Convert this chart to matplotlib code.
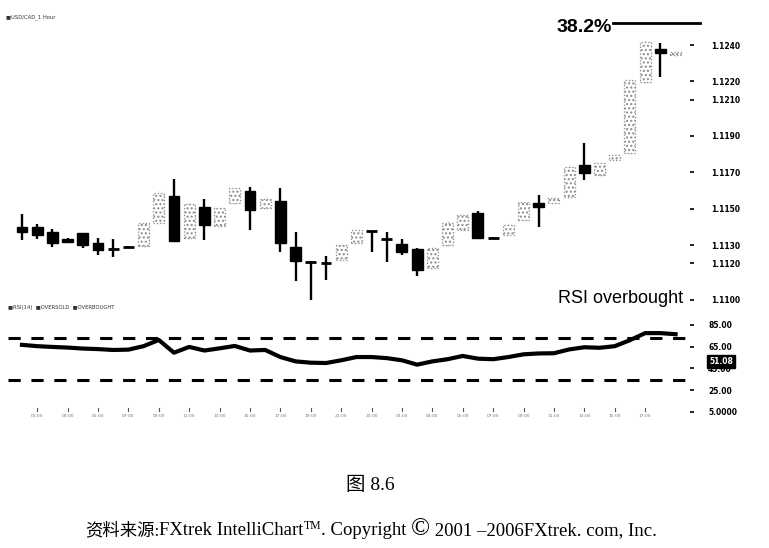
import numpy as np
import matplotlib
matplotlib.use("Agg")
import matplotlib.pyplot as plt
from matplotlib.patches import Rectangle

# USD/CAD 1 hour candles
opens = [1.11401, 1.11401, 1.11373, 1.11335, 1.11368, 1.11313, 1.11280, 1.11291,
         1.11296, 1.11423, 1.11571, 1.11340, 1.11511, 1.11406, 1.11533, 1.11598,
         1.11505, 1.11544, 1.11291, 1.11210, 1.11203, 1.11220, 1.11313, 1.11379,
         1.11335, 1.11307, 1.11280, 1.11176, 1.11302, 1.11384, 1.11478, 1.11340,
         1.11357, 1.11439, 1.11533, 1.11533, 1.11566, 1.11741, 1.11686, 1.11769,
         1.11807, 1.12197, 1.12378, 1.12345]
highs = [1.11472, 1.11417, 1.11390, 1.11340, 1.11368, 1.11340, 1.11335, 1.11296,
         1.11430, 1.11600, 1.11664, 1.11540, 1.11555, 1.11515, 1.11625, 1.11620,
         1.11565, 1.11615, 1.11373, 1.11214, 1.11242, 1.11310, 1.11390, 1.11379,
         1.11373, 1.11335, 1.11285, 1.11295, 1.11430, 1.11475, 1.11485, 1.11345,
         1.11420, 1.11545, 1.11576, 1.11565, 1.11740, 1.11862, 1.11760, 1.11800,
         1.12215, 1.12425, 1.12411, 1.12370]
lows = [1.11329, 1.11335, 1.11291, 1.11313, 1.11285, 1.11247, 1.11236, 1.11286,
        1.11290, 1.11415, 1.11324, 1.11335, 1.11329, 1.11400, 1.11525, 1.11384,
        1.11500, 1.11264, 1.11104, 1.11000, 1.11110, 1.11215, 1.11305, 1.11264,
        1.11209, 1.11247, 1.11132, 1.11170, 1.11295, 1.11380, 1.11335, 1.11335,
        1.11350, 1.11435, 1.11401, 1.11530, 1.11560, 1.11659, 1.11680, 1.11765,
        1.11800, 1.12190, 1.12224, 1.12340]
closes = [1.11373, 1.11357, 1.11313, 1.11318, 1.11302, 1.11275, 1.11280, 1.11291,
          1.11423, 1.11587, 1.11324, 1.11527, 1.11412, 1.11505, 1.11615, 1.11494,
          1.11555, 1.11313, 1.11214, 1.11210, 1.11203, 1.11302, 1.11384, 1.11379,
          1.11335, 1.11264, 1.11165, 1.11285, 1.11423, 1.11467, 1.11340, 1.11340,
          1.11412, 1.11538, 1.11511, 1.11560, 1.11730, 1.11697, 1.11752, 1.11796,
          1.12208, 1.12416, 1.12356, 1.12362]

rsi = [66.7, 65.5, 64.8, 64.2, 63.3, 62.8, 62.0, 62.3, 65.5, 71.2, 59.5, 64.8,
       61.5, 63.5, 65.7, 61.5, 62.0, 55.5, 51.5, 50.3, 50.0, 52.5, 55.5, 55.5,
       54.5, 52.5, 48.5, 51.5, 53.5, 56.5, 54.0, 53.5, 55.5, 58.0, 58.8, 59.0,
       62.5, 64.5, 64.0, 65.5, 71.0, 77.5, 77.5, 76.5]
overbought = 73.0
oversold = 34.5
rsi_last = 51.08
fib_level = 1.12521

price_ticks = [1.1240, 1.1220, 1.1210, 1.1190, 1.1170, 1.1150, 1.1130, 1.1120, 1.1100]
rsi_ticks = [85, 65, 45, 25, 5]
rsi_tick_labels = ["85.00", "65.00", "45.00", "25.00", "5.0000"]
time_labels = ["01:00", "03:00", "05:00", "07:00", "09:00", "11:00", "13:00",
               "15:00", "17:00", "19:00", "21:00", "23:00", "01:00", "03:00",
               "05:00", "07:00", "09:00", "11:00", "13:00", "15:00", "17:00"]

W, H = 769, 548
fig = plt.figure(figsize=(W / 100, H / 100), dpi=100)
fig.patch.set_facecolor("white")

xlim = (-0.92, 43.95)
ax = fig.add_axes([8 / W, (H - 305) / H, 682 / W, 290 / H])
ax.set_xlim(*xlim)
ax.set_ylim(1.10971, 1.12565)

n = len(opens)
x = np.arange(n)
bw = 0.72
for i in range(n):
    o, h, l, c = opens[i], highs[i], lows[i], closes[i]
    if c < o:
        ax.vlines(x[i], l, h, color="black", lw=1.7, zorder=2)
        ax.add_patch(Rectangle((x[i] - bw / 2, c), bw, o - c, facecolor="black",
                               edgecolor="black", lw=1, zorder=3))
    elif c > o:
        ax.vlines(x[i], l, h, color="#c8c8c8", lw=0.8, linestyles=":", zorder=2)
        ax.add_patch(Rectangle((x[i] - bw / 2, o), bw, c - o, facecolor="white",
                               edgecolor="#8a8a8a", lw=0.9, ls=":", hatch="....",
                               zorder=3))
    else:
        ax.vlines(x[i], l, h, color="black", lw=1.7, zorder=2)
        ax.hlines(o, x[i] - bw / 2, x[i] + bw / 2, color="black", lw=2.0, zorder=3)

# 38.2% retracement line
ax.plot([38.9, 44.6], [fib_level, fib_level], color="black", lw=2.0, clip_on=False)
ax.text(38.8, fib_level - 0.00025, "38.2%", ha="right", va="center",
        fontsize=14, fontweight="bold", family="Liberation Sans")
ax.text(0.99, 0.022, "RSI overbought", transform=ax.transAxes, ha="right",
        va="center", fontsize=13, family="Liberation Sans")

ax.yaxis.tick_right()
ax.set_yticks(price_ticks)
ax.set_yticklabels([f"{t:.4f}" for t in price_ticks])
ax.tick_params(axis="y", length=3, width=1.2, pad=12, labelsize=5.5,
               direction="out")
for lab in ax.get_yticklabels():
    lab.set_fontweight("bold")
ax.set_xticks([])
for s in ax.spines.values():
    s.set_visible(False)

fig.text(6 / W, 1 - 17 / H, "\u25a0USD/CAD_1 Hour", fontsize=3.8,
         va="center", ha="left", color="#333333")

# RSI panel
ax2 = fig.add_axes([8 / W, (H - 420) / H, 682 / W, 102 / H])
ax2.set_xlim(*xlim)
ax2.set_ylim(-2.4, 91.4)
ax2.axhline(overbought, color="black", lw=2.2, ls=(0, (4, 3.5)))
ax2.axhline(oversold, color="black", lw=2.2, ls=(0, (4, 3.5)))
ax2.plot(x, rsi, color="black", lw=3.0, solid_joinstyle="round")
ax2.yaxis.tick_right()
ax2.set_yticks(rsi_ticks)
ax2.set_yticklabels(rsi_tick_labels)
ax2.tick_params(axis="y", length=3, width=1.2, pad=10, labelsize=5.5,
                direction="out")
for lab in ax2.get_yticklabels():
    lab.set_fontweight("bold")
ax2.text(1.028, rsi_last, f"{rsi_last:.2f}", transform=ax2.get_yaxis_transform(),
         ha="left", va="center", fontsize=5.5, fontweight="bold", color="white",
         bbox=dict(boxstyle="square,pad=0.25", fc="black", ec="black"),
         clip_on=False)
tick_x = x[1::2][:len(time_labels)]
for tx, lab in zip(tick_x, time_labels):
    ax2.plot([tx, tx], [5.5, 9], color="#555555", lw=0.8)
    ax2.text(tx, 1.5, lab, ha="center", va="center", fontsize=3.2,
             color="#777777")
ax2.set_xticks([])
for s in ax2.spines.values():
    s.set_visible(False)

fig.text(8 / W, 1 - 308 / H, "\u25a0RSI(14)  \u25a0OVERSOLD  \u25a0OVERBOUGHT",
         fontsize=3.8, va="center", ha="left", color="#333333")

# captions
cap_font = ["Liberation Serif", "Noto Sans CJK SC"]
fig.text(370 / W, 1 - 485 / H, "图 8.6", ha="center", va="center",
         fontsize=14, family=cap_font)

renderer = fig.canvas.get_renderer()
pieces = [("资料来源:", 12.5, 0),
          ("FXtrek IntelliChart", 13.5, 0),
          ("TM", 8.5, 6),
          (". Copyright ", 13.5, 0),
          ("\u00a9", 18, 0),
          (" 2001 \u20132006FXtrek. com, Inc.", 13.5, 0)]
cx = 85
base_y = H - 535
for txt, fs, dy in pieces:
    t = fig.text(cx / W, (base_y + dy) / H, txt, ha="left", va="baseline",
                 fontsize=fs, family=cap_font)
    bb = t.get_window_extent(renderer)
    cx += bb.width

fig.savefig("out.png", dpi=100, facecolor="white")
